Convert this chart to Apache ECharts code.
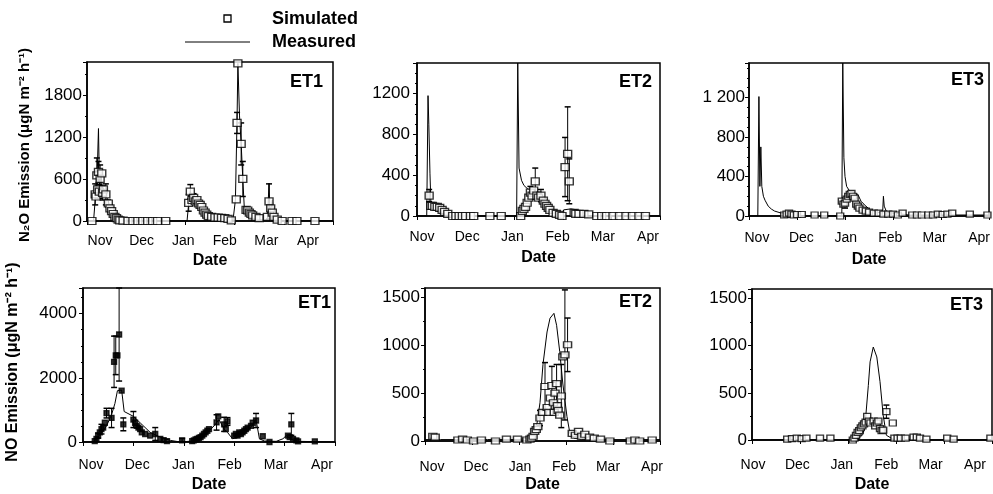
<!DOCTYPE html>
<html>
<head>
<meta charset="utf-8">
<script src="https://cdn.jsdelivr.net/npm/echarts@6/dist/echarts.min.js"></script>
<style>
html, body { margin: 0; padding: 0; background: #fff; }
#chart { width: 993px; height: 494px; }
</style>
</head>
<body>
<div id="chart"></div>
<script>
// x = days from 1 Nov (a month counted as 30 days)
const months = ['Nov', 'Dec', 'Jan', 'Feb', 'Mar', 'Apr'];
const monthDays = [0, 30, 60, 90, 120, 150];
const panelNames = ['ET1', 'ET2', 'ET3', 'ET1', 'ET2', 'ET3'];
const yMax = [2270, 1500, 1550, 4800, 1600, 1600];
const yStep = [600, 400, 400, 2000, 500, 500];
const yMinor = [2, 4, 4, 4, 2, 2];

// measured: [day, value]
const et1N2oMeas = [[0,0],[4,0],[5,300],[6,500],[7,1320],[7.6,500],[8.5,700],[9.5,400],[11,350],[12.5,320],[14,200],[15.5,120],[17,70],[19,30],[22,10],[26,0],[61,0],[62,250],[63,420],[64.5,330],[66,300],[68,260],[70,200],[72,150],[74,90],[77,50],[80,30],[85,15],[89,5],[90.5,300],[91.5,1450],[92,2250],[93,1500],[94,1100],[95,600],[96,150],[98,80],[101,40],[105,20],[108,10],[110,20],[111,540],[111.6,100],[113,300],[114,60],[116,20],[120,5],[150,0]];
const et2N2oMeas = [[0,0],[6,0],[6.8,1180],[7.3,900],[8,420],[8.6,120],[10,70],[12,50],[15,30],[18,10],[22,0],[61.5,0],[62.2,1500],[63,470],[64.5,350],[66,300],[68,270],[70,250],[73,230],[76,220],[79,180],[82,100],[85,40],[88,10],[89.5,0],[90.5,60],[95,70],[99,60],[101,10],[104,0],[150,0]];
const et3N2oMeas = [[0,0],[5.5,0],[6.2,1210],[6.8,300],[7.4,700],[8,300],[9,200],[10,160],[12,100],[14,70],[16,50],[20,30],[25,15],[30,5],[35,0],[58,0],[58.6,1550],[59.3,590],[60,400],[61,300],[63,250],[65,230],[68,220],[70,150],[73,100],[76,60],[80,40],[83.5,30],[84,200],[84.5,100],[86,40],[90,30],[95,20],[100,10],[150,10]];
const et1NoMeas = [[0,0],[6,0],[10,200],[14,500],[17,850],[19,1200],[20.5,1600],[23,1620],[24.5,950],[30,800],[34,600],[40,300],[46,150],[52,50],[58,0],[65,30],[70,100],[74,300],[78,500],[81,700],[84,400],[86,300],[89,100],[95,200],[100,450],[103,700],[105,100],[108,30],[115,20],[119,100],[121,200],[124,80],[128,20],[140,10],[150,0]];
const et2NoMeas = [[0,15],[10,15],[20,15],[30,15],[40,15],[50,15],[60,15],[66,30],[69,80],[71.5,185],[73.4,400],[75.3,800],[77.9,1140],[79.8,1284],[82.3,1335],[84,1210],[86,935],[88,596],[90.6,257],[92.5,80],[95,30],[100,15],[150,15]];
const et3NoMeas = [[0,0],[63,0],[67,20],[69.4,60],[71,230],[72.7,576],[73.8,828],[75.8,985],[76.9,1000],[78,880],[80,618],[82,262],[84,50],[88,10],[92,0],[150,0]];

// simulated: [day, value, error]
const et1N2oSim = [[3,0,0],[5,380,150],[5.5,350,0],[6,650,250],[6.5,450,0],[7,700,150],[7.5,420,100],[8,600,200],[9,680,0],[9.5,400,100],[10,450,0],[11.5,380,150],[13,250,50],[14,180,50],[15,140,0],[16,100,30],[17,60,0],[18,40,0],[19,20,0],[20,10,0],[22,5,0],[25,0,0],[28,0,0],[31,0,0],[34,0,0],[37,0,0],[40,0,0],[43,0,0],[48,0,0],[62,260,120],[63,420,100],[64,300,0],[65,330,60],[66,280,0],[67,300,0],[68,250,40],[69,230,0],[70,200,0],[71,150,0],[72,120,0],[73,90,0],[74,70,0],[76,60,0],[78,50,0],[80,50,0],[82,45,0],[84,40,0],[86,30,0],[88,10,0],[91,310,0],[91.5,1400,150],[92,2250,0],[94,1100,300],[95,600,250],[97,160,40],[98,150,0],[99,120,0],[100,100,0],[101,80,0],[103,60,0],[105,40,0],[110,60,0],[111,280,250],[112,180,0],[113,120,0],[114,60,0],[116,20,0],[119,0,0],[125,0,0],[128,0,0],[139,0,0]];
const et2N2oSim = [[7.5,200,60],[8.5,100,0],[9.5,100,0],[11,90,0],[12.5,90,0],[14,80,0],[15.5,60,0],[17,40,0],[19,20,0],[22,0,0],[24,0,0],[26,0,0],[28,0,0],[30,0,0],[33,0,0],[35,0,0],[45,0,0],[52,0,0],[64,0,0],[65,50,0],[66,70,0],[67,90,0],[68,130,0],[69,180,0],[70,230,60],[71,200,0],[72,250,0],[73,340,130],[74,200,0],[75,180,0],[76.5,200,60],[78,150,0],[79,120,0],[80,100,0],[81,80,0],[82,60,0],[84,30,0],[86,20,0],[88,10,0],[89.5,0,0],[91.4,480,290],[93,610,460],[94,340,220],[97,30,0],[98,20,0],[100,20,0],[103,20,0],[106,15,0],[111,0,0],[114,0,0],[117,0,0],[121,0,0],[125,0,0],[129,0,0],[133,0,0],[137,0,0],[141,0,0]];
const et3N2oSim = [[22,10,0],[23.5,20,0],[25,30,0],[26.5,20,0],[28,10,0],[30,15,0],[33,15,0],[41,10,0],[47,10,0],[57,0,0],[58,150,0],[59,120,0],[60,130,50],[61,170,0],[62,200,0],[63,220,0],[64,230,0],[65,200,0],[66,180,0],[67,120,0],[68,100,0],[69,80,0],[71,60,0],[73,50,0],[75,40,0],[78,30,0],[81,30,0],[84,20,0],[87,20,0],[90,20,0],[93,10,0],[96,30,0],[102,10,0],[105,10,0],[108,10,0],[112,10,0],[115,10,0],[118,20,0],[121,15,0],[124,20,0],[127,30,0],[138,20,0],[149,10,0]];
const et1NoSim = [[7,30,0],[8,100,0],[9,200,80],[10,300,0],[11,400,150],[12,450,0],[13,600,0],[14,900,150],[17,750,300],[18.5,2500,800],[19.5,2700,600],[20.5,2700,0],[21.5,3350,1450],[23,1600,0],[24,550,200],[30,700,250],[31,600,0],[32,500,0],[33,450,0],[34,400,0],[35,300,0],[37,250,0],[40,200,0],[43,250,200],[46,100,0],[48,60,0],[50,30,0],[59,50,60],[65,30,0],[66,50,0],[67,80,0],[68,100,0],[69,130,0],[70,150,0],[71,200,0],[72,250,0],[73,300,0],[74,350,0],[75,400,0],[79.5,610,240],[80.5,800,0],[84,550,220],[85,400,0],[86,640,120],[90,200,0],[91,250,0],[92,200,0],[93,300,0],[94,250,0],[95,300,0],[96,350,0],[97,400,0],[98,450,0],[100,500,0],[101,600,0],[103,670,220],[107,180,0],[111,0,0],[122,200,0],[123,150,0],[124,550,340],[125,100,0],[127,50,0],[128,20,0],[138,20,0]];
const et2NoSim = [[5,50,20],[6.5,40,0],[21,10,0],[24,20,0],[27,10,0],[31,0,0],[36,10,0],[45,0,0],[52,20,0],[59,20,0],[65,10,0],[67,20,0],[68,30,0],[69,50,0],[70,100,0],[71,120,0],[72,150,0],[73.4,240,80],[75,300,0],[76.6,570,250],[78,350,0],[79,300,0],[80,450,0],[81,580,200],[82,400,0],[82.5,300,0],[83,500,0],[84,600,200],[84.5,370,0],[85,320,0],[86,270,0],[87,470,330],[88,880,0],[89.3,900,680],[91,1006,280],[94,80,0],[96,60,0],[98,100,0],[100,50,0],[102,70,0],[105,40,0],[108,30,0],[112,20,0],[118,0,0],[131,0,0],[134,10,0],[137,0,0],[145,10,0]];
const et3NoSim = [[22,10,0],[25,15,0],[28,20,0],[31,15,0],[34,20,0],[42.5,20,0],[49,20,0],[63,0,0],[64,20,0],[65,50,0],[66,80,0],[67,100,0],[68,130,0],[69,150,0],[70,170,0],[71,190,0],[72,250,0],[73,200,0],[74,180,0],[76,200,0],[77,150,0],[78,180,0],[79,200,0],[80,120,0],[81,100,0],[82,105,0],[84,300,70],[88,180,0],[89,20,0],[91,20,0],[93,20,0],[96,20,0],[101,30,0],[103,30,0],[105,20,0],[109,10,0],[122,20,0],[126,10,0],[149,20,0]];

const measured = [et1N2oMeas, et2N2oMeas, et3N2oMeas, et1NoMeas, et2NoMeas, et3NoMeas];
const simulated = [et1N2oSim, et2N2oSim, et3N2oSim, et1NoSim, et2NoSim, et3NoSim];

// layout of the six plot boxes
const boxes = [
  { left: 87, top: 62, width: 246, height: 159 },
  { left: 417, top: 63, width: 243, height: 153 },
  { left: 749, top: 63, width: 242, height: 153 },
  { left: 83, top: 288, width: 252, height: 157 },
  { left: 425, top: 288, width: 235, height: 155 },
  { left: 752, top: 289, width: 240, height: 153 }
];
// where the month names sit (first and last label centre, px)
const labelSpan = [[100, 308], [422, 648], [757, 981], [91, 322], [432, 652], [753, 975]];
const xLabelMargin = [13, 14, 15, 16, 19, 18];
const xNameGap = [32, 34, 36, 35, 36, 37];
const yLabelMargin = [5, 7, 4, 6, 5, 5];
const markSize = [[8, 7], [8, 7], [7, 6], [5, 5], [8, 6], [7, 6]];
const markFill = ['#fff', '#fff', '#fff', '#000', '#fff', '#fff'];
const titlePos = [[323, 82], [652, 82], [984, 80], [331, 303], [652, 302], [983, 305]];

const FONT = '"Liberation Sans", Arial, sans-serif';
const chart = echarts.init(document.getElementById('chart'));

function errRender(max) {
  return function (params, api) {
    const x = api.value(0), v = api.value(1), e = api.value(2);
    const top = api.coord([x, Math.min(v + e, max)]);
    const bot = api.coord([x, Math.max(v - e, 0)]);
    const w = 3;
    return {
      type: 'group',
      children: [
        { type: 'line', shape: { x1: top[0], y1: top[1], x2: bot[0], y2: bot[1] }, style: { stroke: '#000', lineWidth: 1 } },
        { type: 'line', shape: { x1: top[0] - w, y1: top[1], x2: top[0] + w, y2: top[1] }, style: { stroke: '#000', lineWidth: 1.5 } },
        { type: 'line', shape: { x1: bot[0] - w, y1: bot[1], x2: bot[0] + w, y2: bot[1] }, style: { stroke: '#000', lineWidth: 1.5 } }
      ]
    };
  };
}

const monthName = v => {
  const k = Math.round(v / 30);
  return Math.abs(v - k * 30) < 0.01 ? (months[k] || '') : '';
};

const grid = [], xAxis = [], yAxis = [], series = [], graphic = [];
boxes.forEach((b, i) => {
  grid.push(Object.assign({ show: true, borderColor: '#000', borderWidth: 1.5, containLabel: false }, b));
  xAxis.push({
    type: 'value', gridIndex: i, min: 0, max: 150, interval: 30, position: 'bottom',
    name: 'Date', nameLocation: 'middle', nameGap: xNameGap[i],
    nameTextStyle: { fontFamily: FONT, fontWeight: 'bold', fontSize: 16, color: '#000' },
    axisLine: { lineStyle: { color: '#000', width: 1.5 } },
    axisTick: { show: true, length: 4, lineStyle: { color: '#000' } },
    splitLine: { show: false },
    axisLabel: { show: false }
  });
  yAxis.push({
    type: 'value', gridIndex: i, min: 0, max: yMax[i], interval: yStep[i],
    axisLine: { show: true, lineStyle: { color: '#000', width: 1.5 } },
    axisTick: { show: true, length: 4, lineStyle: { color: '#000' } },
    minorTick: { show: true, splitNumber: yMinor[i], length: 2, lineStyle: { color: '#000' } },
    splitLine: { show: false },
    axisLabel: {
      margin: yLabelMargin[i], fontFamily: FONT, fontSize: 17, color: '#000', showMaxLabel: false,
      formatter: v => (v % yStep[i] !== 0 ? '' : (i === 2 && v === 1200 ? '1 200' : String(v)))
    }
  });
  series.push({
    type: 'line', xAxisIndex: i, yAxisIndex: i, data: measured[i],
    showSymbol: false, symbol: 'none', lineStyle: { color: '#000', width: 1 }, z: 2, silent: true
  });
  series.push({
    type: 'custom', xAxisIndex: i, yAxisIndex: i,
    data: simulated[i].filter(d => d[2] > 0),
    encode: { x: 0, y: 1 }, renderItem: errRender(yMax[i]), z: 3, silent: true
  });
  series.push({
    type: 'scatter', xAxisIndex: i, yAxisIndex: i, data: simulated[i].map(d => [d[0], d[1]]),
    symbol: 'rect', symbolSize: markSize[i],
    itemStyle: { color: markFill[i], borderColor: '#000', borderWidth: 1.3 }, z: 4, silent: true
  });
  graphic.push({
    type: 'text', x: titlePos[i][0], y: titlePos[i][1],
    style: { text: panelNames[i], align: 'right', verticalAlign: 'middle', font: 'bold 18px ' + FONT, fill: '#000' }
  });
});

// second x axis per panel carrying only the month names
boxes.forEach((b, i) => {
  const s = (labelSpan[i][1] - labelSpan[i][0]) / 150;
  const lo = -(labelSpan[i][0] - b.left) / s;
  xAxis.push({
    type: 'value', gridIndex: i, min: lo, max: lo + b.width / s, position: 'bottom',
    axisLine: { show: false }, axisTick: { show: false }, splitLine: { show: false },
    axisLabel: {
      customValues: monthDays, margin: xLabelMargin[i], fontFamily: FONT, fontSize: 14, color: '#000',
      showMinLabel: true, showMaxLabel: true, formatter: monthName
    }
  });
});

// legend and y-axis titles
graphic.push(
  { type: 'rect', shape: { x: 224, y: 15, width: 7, height: 7 }, style: { fill: '#fff', stroke: '#000', lineWidth: 1.3 } },
  { type: 'text', x: 272, y: 19, style: { text: 'Simulated', align: 'left', verticalAlign: 'middle', font: 'bold 18px ' + FONT, fill: '#000' } },
  { type: 'line', shape: { x1: 185, y1: 42, x2: 250, y2: 42 }, style: { stroke: '#000', lineWidth: 1 } },
  { type: 'text', x: 272, y: 42, style: { text: 'Measured', align: 'left', verticalAlign: 'middle', font: 'bold 18px ' + FONT, fill: '#000' } },
  { type: 'text', x: 25, y: 145, rotation: Math.PI / 2,
    style: { text: 'N\u2082O Emission (\u03bcgN m\u207b\u00b2 h\u207b\u00b9)', align: 'center', verticalAlign: 'middle', font: 'bold 15px ' + FONT, fill: '#000' } },
  { type: 'text', x: 13, y: 362, rotation: Math.PI / 2,
    style: { text: 'NO Emission (\u03bcgN m\u207b\u00b2 h\u207b\u00b9)', align: 'center', verticalAlign: 'middle', font: 'bold 16px ' + FONT, fill: '#000' } }
);

chart.setOption({
  animation: false,
  backgroundColor: '#fff',
  grid: grid,
  xAxis: xAxis,
  yAxis: yAxis,
  series: series,
  graphic: graphic
});
</script>
</body>
</html>
